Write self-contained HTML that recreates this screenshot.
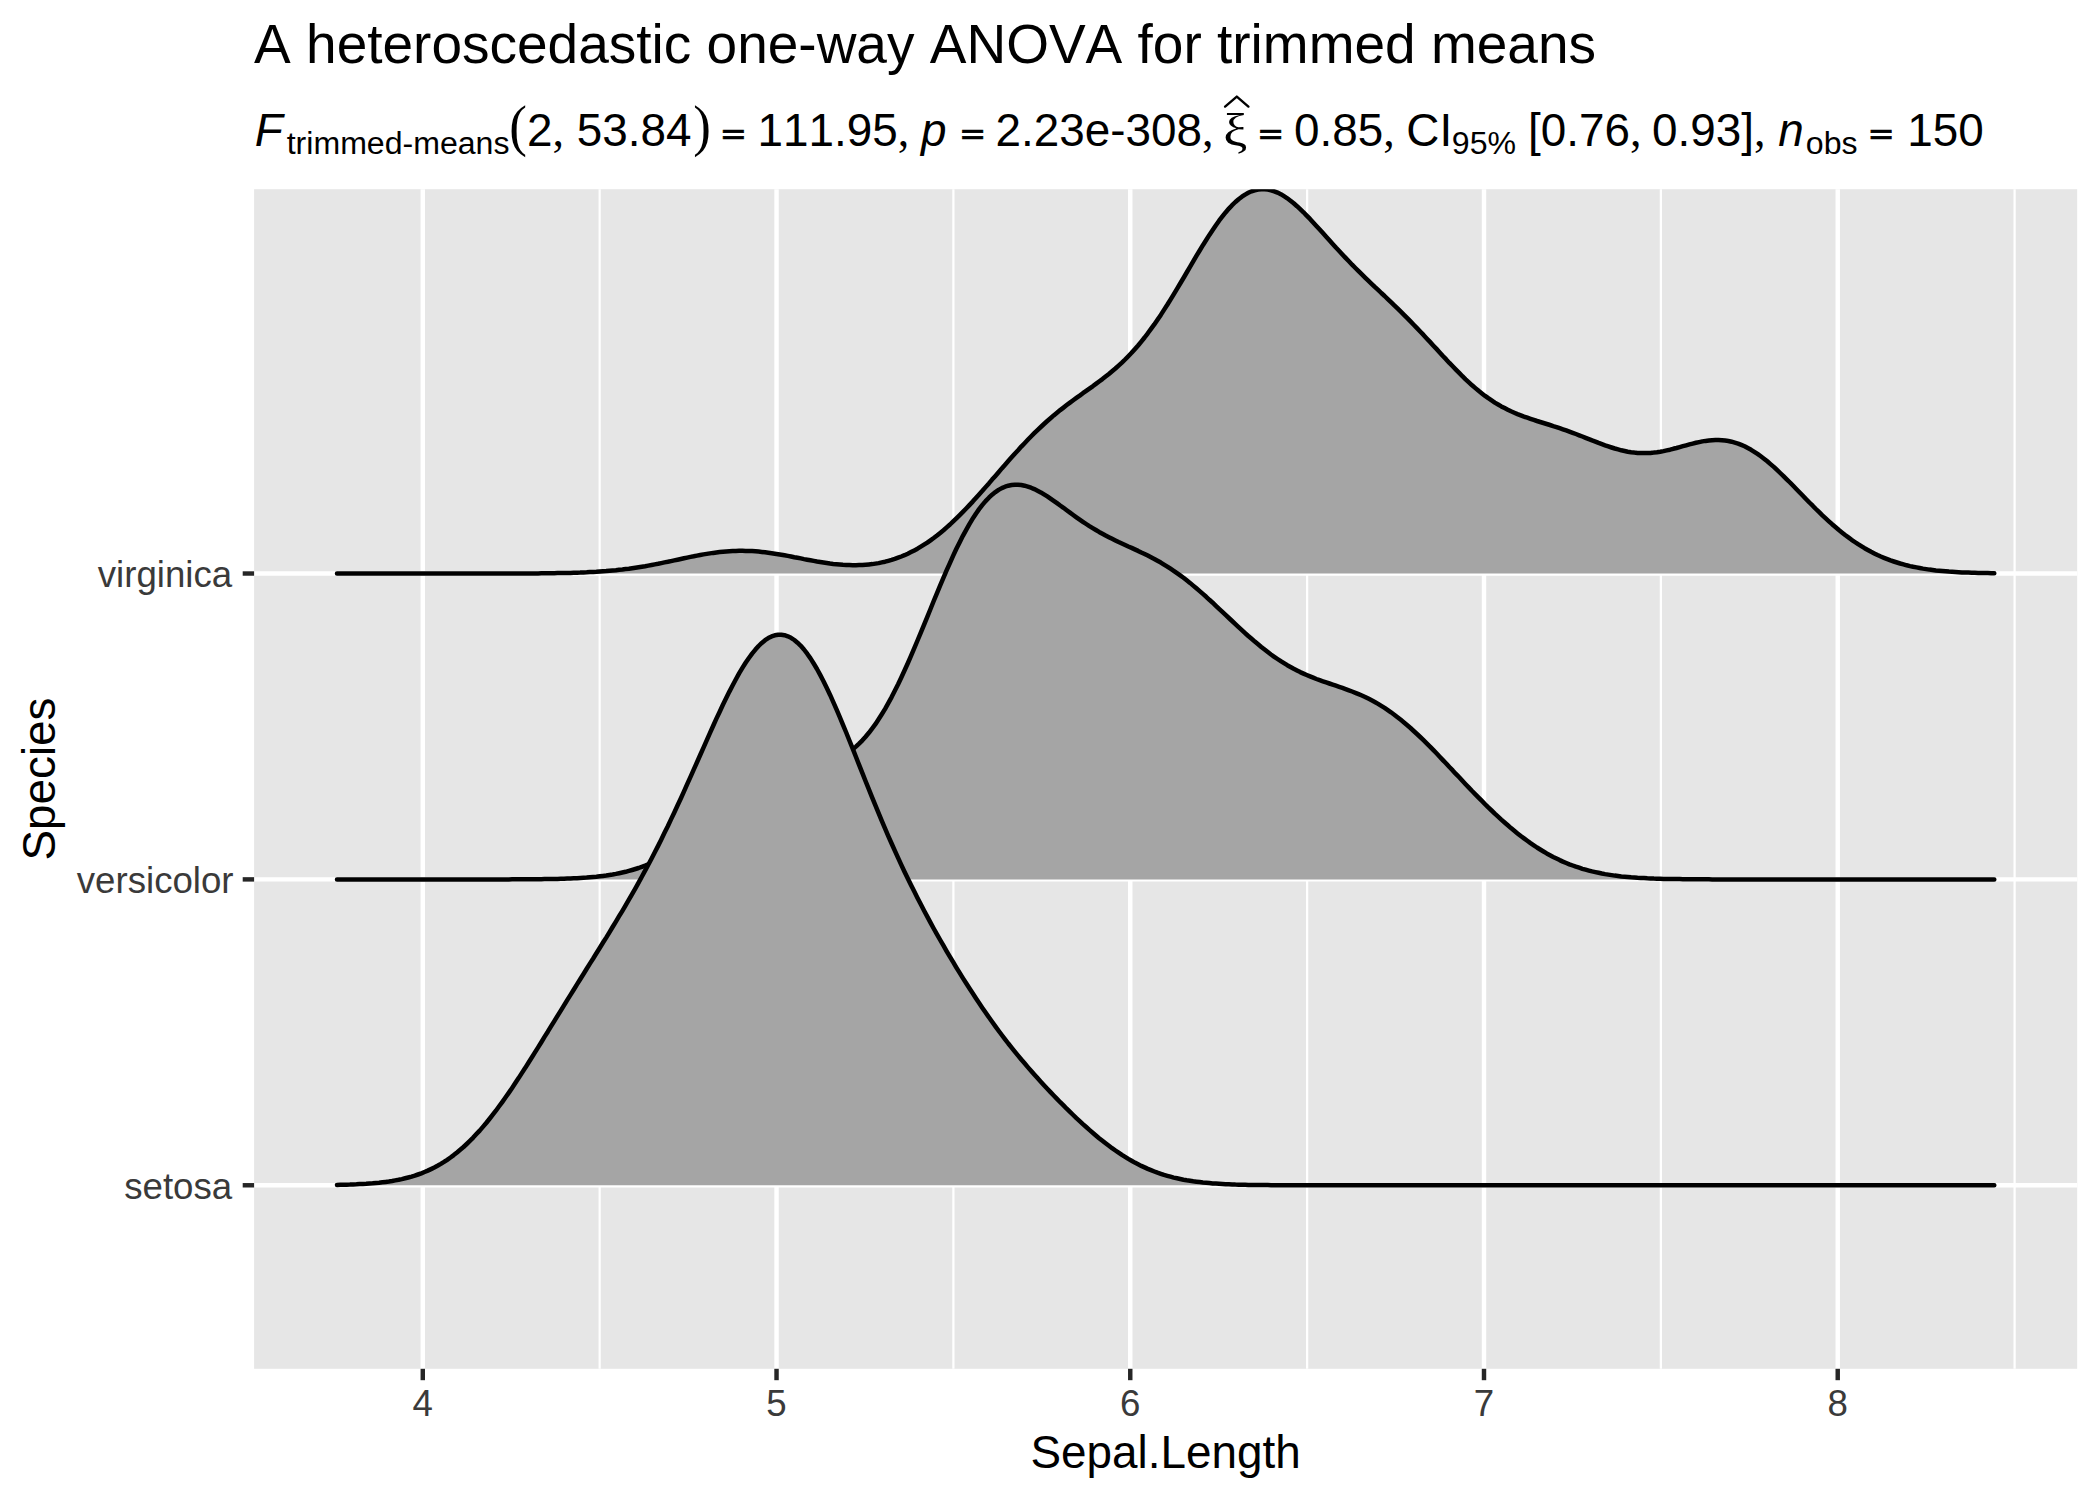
<!DOCTYPE html>
<html><head><meta charset="utf-8"><title>A heteroscedastic one-way ANOVA for trimmed means</title>
<style>
html,body{margin:0;padding:0;background:#fff;}
body{width:2100px;height:1500px;overflow:hidden;}
svg{display:block;}
svg{font-family:"Liberation Sans",sans-serif;font-kerning:none;}
</style></head><body>
<svg width="2100" height="1500" viewBox="0 0 2100 1500">
<rect width="2100" height="1500" fill="#fff"/>
<rect x="254.10" y="189.20" width="1823.07" height="1179.60" fill="#E6E6E6"/>
<line x1="599.66" x2="599.66" y1="189.20" y2="1368.80" stroke="#fff" stroke-width="2.22"/>
<line x1="953.39" x2="953.39" y1="189.20" y2="1368.80" stroke="#fff" stroke-width="2.22"/>
<line x1="1307.13" x2="1307.13" y1="189.20" y2="1368.80" stroke="#fff" stroke-width="2.22"/>
<line x1="1660.86" x2="1660.86" y1="189.20" y2="1368.80" stroke="#fff" stroke-width="2.22"/>
<line x1="2014.60" x2="2014.60" y1="189.20" y2="1368.80" stroke="#fff" stroke-width="2.22"/>
<line x1="422.79" x2="422.79" y1="189.20" y2="1368.80" stroke="#fff" stroke-width="4.45"/>
<line x1="776.53" x2="776.53" y1="189.20" y2="1368.80" stroke="#fff" stroke-width="4.45"/>
<line x1="1130.26" x2="1130.26" y1="189.20" y2="1368.80" stroke="#fff" stroke-width="4.45"/>
<line x1="1484.00" x2="1484.00" y1="189.20" y2="1368.80" stroke="#fff" stroke-width="4.45"/>
<line x1="1837.73" x2="1837.73" y1="189.20" y2="1368.80" stroke="#fff" stroke-width="4.45"/>
<line x1="254.10" x2="2077.17" y1="1185.27" y2="1185.27" stroke="#fff" stroke-width="4.45"/>
<line x1="254.10" x2="2077.17" y1="879.39" y2="879.39" stroke="#fff" stroke-width="4.45"/>
<line x1="254.10" x2="2077.17" y1="573.52" y2="573.52" stroke="#fff" stroke-width="4.45"/>
<clipPath id="pc"><rect x="254.10" y="189.20" width="1823.07" height="1179.60"/></clipPath>
<g clip-path="url(#pc)">
<polygon points="337.0,573.5 340.2,573.5 343.5,573.5 346.7,573.5 349.9,573.5 353.2,573.5 356.4,573.5 359.7,573.5 362.9,573.5 366.2,573.5 369.4,573.5 372.6,573.5 375.9,573.5 379.1,573.5 382.4,573.5 385.6,573.5 388.9,573.5 392.1,573.5 395.3,573.5 398.6,573.5 401.8,573.5 405.1,573.5 408.3,573.5 411.6,573.5 414.8,573.5 418.0,573.5 421.3,573.5 424.5,573.5 427.8,573.5 431.0,573.5 434.3,573.5 437.5,573.5 440.8,573.5 444.0,573.5 447.2,573.5 450.5,573.5 453.7,573.5 457.0,573.5 460.2,573.5 463.5,573.5 466.7,573.5 469.9,573.5 473.2,573.5 476.4,573.5 479.7,573.5 482.9,573.5 486.2,573.5 489.4,573.5 492.6,573.5 495.9,573.5 499.1,573.5 502.4,573.5 505.6,573.5 508.9,573.5 512.1,573.5 515.3,573.5 518.6,573.5 521.8,573.5 525.1,573.4 528.3,573.4 531.6,573.4 534.8,573.4 538.1,573.4 541.3,573.3 544.5,573.3 547.8,573.3 551.0,573.2 554.3,573.2 557.5,573.1 560.8,573.1 564.0,573.0 567.2,573.0 570.5,572.9 573.7,572.8 577.0,572.7 580.2,572.6 583.5,572.4 586.7,572.3 589.9,572.1 593.2,572.0 596.4,571.8 599.7,571.5 602.9,571.3 606.2,571.1 609.4,570.8 612.6,570.5 615.9,570.2 619.1,569.8 622.4,569.5 625.6,569.1 628.9,568.7 632.1,568.2 635.4,567.7 638.6,567.2 641.8,566.7 645.1,566.2 648.3,565.6 651.6,565.0 654.8,564.4 658.1,563.8 661.3,563.1 664.5,562.4 667.8,561.8 671.0,561.1 674.3,560.4 677.5,559.7 680.8,559.0 684.0,558.3 687.2,557.6 690.5,556.9 693.7,556.3 697.0,555.6 700.2,555.0 703.5,554.4 706.7,553.9 709.9,553.4 713.2,552.9 716.4,552.5 719.7,552.1 722.9,551.7 726.2,551.4 729.4,551.2 732.7,551.0 735.9,550.9 739.1,550.8 742.4,550.8 745.6,550.9 748.9,551.0 752.1,551.1 755.4,551.3 758.6,551.6 761.8,551.9 765.1,552.3 768.3,552.7 771.6,553.2 774.8,553.7 778.1,554.2 781.3,554.7 784.5,555.3 787.8,555.9 791.0,556.5 794.3,557.2 797.5,557.8 800.8,558.4 804.0,559.1 807.2,559.7 810.5,560.3 813.7,560.9 817.0,561.5 820.2,562.0 823.5,562.5 826.7,563.0 830.0,563.5 833.2,563.9 836.4,564.2 839.7,564.5 842.9,564.8 846.2,565.0 849.4,565.1 852.7,565.2 855.9,565.2 859.1,565.1 862.4,565.0 865.6,564.7 868.9,564.4 872.1,564.1 875.4,563.6 878.6,563.1 881.8,562.4 885.1,561.7 888.3,560.8 891.6,559.9 894.8,558.9 898.1,557.7 901.3,556.5 904.5,555.2 907.8,553.7 911.0,552.1 914.3,550.4 917.5,548.7 920.8,546.7 924.0,544.7 927.3,542.6 930.5,540.3 933.7,538.0 937.0,535.5 940.2,532.9 943.5,530.2 946.7,527.4 950.0,524.5 953.2,521.4 956.4,518.3 959.7,515.1 962.9,511.9 966.2,508.5 969.4,505.1 972.7,501.6 975.9,498.0 979.1,494.4 982.4,490.8 985.6,487.1 988.9,483.4 992.1,479.6 995.4,475.9 998.6,472.2 1001.8,468.4 1005.1,464.7 1008.3,461.0 1011.6,457.3 1014.8,453.7 1018.1,450.2 1021.3,446.6 1024.6,443.2 1027.8,439.8 1031.0,436.5 1034.3,433.2 1037.5,430.1 1040.8,427.0 1044.0,424.0 1047.3,421.0 1050.5,418.2 1053.7,415.4 1057.0,412.7 1060.2,410.1 1063.5,407.6 1066.7,405.1 1070.0,402.6 1073.2,400.2 1076.4,397.9 1079.7,395.6 1082.9,393.2 1086.2,390.9 1089.4,388.6 1092.7,386.3 1095.9,383.9 1099.1,381.5 1102.4,379.1 1105.6,376.6 1108.9,374.0 1112.1,371.3 1115.4,368.5 1118.6,365.6 1121.9,362.6 1125.1,359.5 1128.3,356.2 1131.6,352.8 1134.8,349.2 1138.1,345.5 1141.3,341.6 1144.6,337.5 1147.8,333.3 1151.0,328.9 1154.3,324.4 1157.5,319.7 1160.8,314.9 1164.0,309.9 1167.3,304.8 1170.5,299.6 1173.7,294.3 1177.0,288.9 1180.2,283.5 1183.5,278.0 1186.7,272.5 1190.0,266.9 1193.2,261.4 1196.4,255.9 1199.7,250.5 1202.9,245.2 1206.2,240.0 1209.4,234.9 1212.7,230.0 1215.9,225.2 1219.1,220.7 1222.4,216.4 1225.6,212.4 1228.9,208.6 1232.1,205.2 1235.4,202.0 1238.6,199.2 1241.9,196.7 1245.1,194.6 1248.3,192.8 1251.6,191.3 1254.8,190.3 1258.1,189.5 1261.3,189.2 1264.6,189.2 1267.8,189.6 1271.0,190.3 1274.3,191.3 1277.5,192.6 1280.8,194.2 1284.0,196.2 1287.3,198.3 1290.5,200.7 1293.7,203.3 1297.0,206.2 1300.2,209.2 1303.5,212.3 1306.7,215.6 1310.0,218.9 1313.2,222.4 1316.4,225.9 1319.7,229.5 1322.9,233.1 1326.2,236.7 1329.4,240.3 1332.7,243.9 1335.9,247.5 1339.2,251.0 1342.4,254.5 1345.6,257.9 1348.9,261.3 1352.1,264.7 1355.4,268.0 1358.6,271.2 1361.9,274.4 1365.1,277.6 1368.3,280.7 1371.6,283.8 1374.8,286.9 1378.1,289.9 1381.3,293.0 1384.6,296.0 1387.8,299.1 1391.0,302.2 1394.3,305.3 1397.5,308.4 1400.8,311.6 1404.0,314.8 1407.3,318.1 1410.5,321.4 1413.7,324.7 1417.0,328.1 1420.2,331.5 1423.5,334.9 1426.7,338.4 1430.0,341.9 1433.2,345.4 1436.5,348.9 1439.7,352.4 1442.9,356.0 1446.2,359.4 1449.4,362.9 1452.7,366.3 1455.9,369.6 1459.2,372.9 1462.4,376.2 1465.6,379.3 1468.9,382.3 1472.1,385.3 1475.4,388.1 1478.6,390.8 1481.9,393.4 1485.1,395.9 1488.3,398.2 1491.6,400.4 1494.8,402.6 1498.1,404.5 1501.3,406.4 1504.6,408.1 1507.8,409.8 1511.0,411.3 1514.3,412.7 1517.5,414.1 1520.8,415.4 1524.0,416.6 1527.3,417.7 1530.5,418.8 1533.8,419.9 1537.0,421.0 1540.2,422.0 1543.5,423.0 1546.7,424.0 1550.0,425.0 1553.2,426.1 1556.5,427.1 1559.7,428.2 1562.9,429.3 1566.2,430.4 1569.4,431.6 1572.7,432.8 1575.9,434.0 1579.2,435.3 1582.4,436.5 1585.6,437.8 1588.9,439.1 1592.1,440.4 1595.4,441.6 1598.6,442.9 1601.9,444.1 1605.1,445.3 1608.3,446.4 1611.6,447.5 1614.8,448.5 1618.1,449.4 1621.3,450.3 1624.6,451.0 1627.8,451.7 1631.1,452.2 1634.3,452.6 1637.5,452.9 1640.8,453.1 1644.0,453.1 1647.3,453.1 1650.5,452.9 1653.8,452.6 1657.0,452.2 1660.2,451.7 1663.5,451.1 1666.7,450.4 1670.0,449.7 1673.2,448.8 1676.5,448.0 1679.7,447.1 1682.9,446.2 1686.2,445.3 1689.4,444.4 1692.7,443.6 1695.9,442.8 1699.2,442.1 1702.4,441.4 1705.6,440.9 1708.9,440.5 1712.1,440.2 1715.4,440.0 1718.6,440.0 1721.9,440.2 1725.1,440.5 1728.4,441.0 1731.6,441.7 1734.8,442.6 1738.1,443.6 1741.3,444.9 1744.6,446.3 1747.8,448.0 1751.1,449.8 1754.3,451.8 1757.5,453.9 1760.8,456.3 1764.0,458.7 1767.3,461.3 1770.5,464.1 1773.8,466.9 1777.0,469.9 1780.2,473.0 1783.5,476.1 1786.7,479.3 1790.0,482.5 1793.2,485.8 1796.5,489.2 1799.7,492.5 1802.9,495.8 1806.2,499.2 1809.4,502.5 1812.7,505.7 1815.9,509.0 1819.2,512.2 1822.4,515.3 1825.7,518.3 1828.9,521.3 1832.1,524.2 1835.4,527.0 1838.6,529.8 1841.9,532.4 1845.1,535.0 1848.4,537.4 1851.6,539.8 1854.8,542.0 1858.1,544.2 1861.3,546.2 1864.6,548.2 1867.8,550.0 1871.1,551.8 1874.3,553.4 1877.5,555.0 1880.8,556.5 1884.0,557.8 1887.3,559.1 1890.5,560.4 1893.8,561.5 1897.0,562.5 1900.2,563.5 1903.5,564.4 1906.7,565.3 1910.0,566.1 1913.2,566.8 1916.5,567.4 1919.7,568.0 1923.0,568.6 1926.2,569.1 1929.4,569.6 1932.7,570.0 1935.9,570.4 1939.2,570.7 1942.4,571.0 1945.7,571.3 1948.9,571.6 1952.1,571.8 1955.4,572.0 1958.6,572.2 1961.9,572.4 1965.1,572.5 1968.4,572.6 1971.6,572.7 1974.8,572.8 1978.1,572.9 1981.3,573.0 1984.6,573.1 1987.8,573.1 1991.1,573.2 1994.3,573.2 1994.3,573.5 337.0,573.5" fill="#A5A5A5"/>
<polyline points="337.0,573.5 340.2,573.5 343.5,573.5 346.7,573.5 349.9,573.5 353.2,573.5 356.4,573.5 359.7,573.5 362.9,573.5 366.2,573.5 369.4,573.5 372.6,573.5 375.9,573.5 379.1,573.5 382.4,573.5 385.6,573.5 388.9,573.5 392.1,573.5 395.3,573.5 398.6,573.5 401.8,573.5 405.1,573.5 408.3,573.5 411.6,573.5 414.8,573.5 418.0,573.5 421.3,573.5 424.5,573.5 427.8,573.5 431.0,573.5 434.3,573.5 437.5,573.5 440.8,573.5 444.0,573.5 447.2,573.5 450.5,573.5 453.7,573.5 457.0,573.5 460.2,573.5 463.5,573.5 466.7,573.5 469.9,573.5 473.2,573.5 476.4,573.5 479.7,573.5 482.9,573.5 486.2,573.5 489.4,573.5 492.6,573.5 495.9,573.5 499.1,573.5 502.4,573.5 505.6,573.5 508.9,573.5 512.1,573.5 515.3,573.5 518.6,573.5 521.8,573.5 525.1,573.4 528.3,573.4 531.6,573.4 534.8,573.4 538.1,573.4 541.3,573.3 544.5,573.3 547.8,573.3 551.0,573.2 554.3,573.2 557.5,573.1 560.8,573.1 564.0,573.0 567.2,573.0 570.5,572.9 573.7,572.8 577.0,572.7 580.2,572.6 583.5,572.4 586.7,572.3 589.9,572.1 593.2,572.0 596.4,571.8 599.7,571.5 602.9,571.3 606.2,571.1 609.4,570.8 612.6,570.5 615.9,570.2 619.1,569.8 622.4,569.5 625.6,569.1 628.9,568.7 632.1,568.2 635.4,567.7 638.6,567.2 641.8,566.7 645.1,566.2 648.3,565.6 651.6,565.0 654.8,564.4 658.1,563.8 661.3,563.1 664.5,562.4 667.8,561.8 671.0,561.1 674.3,560.4 677.5,559.7 680.8,559.0 684.0,558.3 687.2,557.6 690.5,556.9 693.7,556.3 697.0,555.6 700.2,555.0 703.5,554.4 706.7,553.9 709.9,553.4 713.2,552.9 716.4,552.5 719.7,552.1 722.9,551.7 726.2,551.4 729.4,551.2 732.7,551.0 735.9,550.9 739.1,550.8 742.4,550.8 745.6,550.9 748.9,551.0 752.1,551.1 755.4,551.3 758.6,551.6 761.8,551.9 765.1,552.3 768.3,552.7 771.6,553.2 774.8,553.7 778.1,554.2 781.3,554.7 784.5,555.3 787.8,555.9 791.0,556.5 794.3,557.2 797.5,557.8 800.8,558.4 804.0,559.1 807.2,559.7 810.5,560.3 813.7,560.9 817.0,561.5 820.2,562.0 823.5,562.5 826.7,563.0 830.0,563.5 833.2,563.9 836.4,564.2 839.7,564.5 842.9,564.8 846.2,565.0 849.4,565.1 852.7,565.2 855.9,565.2 859.1,565.1 862.4,565.0 865.6,564.7 868.9,564.4 872.1,564.1 875.4,563.6 878.6,563.1 881.8,562.4 885.1,561.7 888.3,560.8 891.6,559.9 894.8,558.9 898.1,557.7 901.3,556.5 904.5,555.2 907.8,553.7 911.0,552.1 914.3,550.4 917.5,548.7 920.8,546.7 924.0,544.7 927.3,542.6 930.5,540.3 933.7,538.0 937.0,535.5 940.2,532.9 943.5,530.2 946.7,527.4 950.0,524.5 953.2,521.4 956.4,518.3 959.7,515.1 962.9,511.9 966.2,508.5 969.4,505.1 972.7,501.6 975.9,498.0 979.1,494.4 982.4,490.8 985.6,487.1 988.9,483.4 992.1,479.6 995.4,475.9 998.6,472.2 1001.8,468.4 1005.1,464.7 1008.3,461.0 1011.6,457.3 1014.8,453.7 1018.1,450.2 1021.3,446.6 1024.6,443.2 1027.8,439.8 1031.0,436.5 1034.3,433.2 1037.5,430.1 1040.8,427.0 1044.0,424.0 1047.3,421.0 1050.5,418.2 1053.7,415.4 1057.0,412.7 1060.2,410.1 1063.5,407.6 1066.7,405.1 1070.0,402.6 1073.2,400.2 1076.4,397.9 1079.7,395.6 1082.9,393.2 1086.2,390.9 1089.4,388.6 1092.7,386.3 1095.9,383.9 1099.1,381.5 1102.4,379.1 1105.6,376.6 1108.9,374.0 1112.1,371.3 1115.4,368.5 1118.6,365.6 1121.9,362.6 1125.1,359.5 1128.3,356.2 1131.6,352.8 1134.8,349.2 1138.1,345.5 1141.3,341.6 1144.6,337.5 1147.8,333.3 1151.0,328.9 1154.3,324.4 1157.5,319.7 1160.8,314.9 1164.0,309.9 1167.3,304.8 1170.5,299.6 1173.7,294.3 1177.0,288.9 1180.2,283.5 1183.5,278.0 1186.7,272.5 1190.0,266.9 1193.2,261.4 1196.4,255.9 1199.7,250.5 1202.9,245.2 1206.2,240.0 1209.4,234.9 1212.7,230.0 1215.9,225.2 1219.1,220.7 1222.4,216.4 1225.6,212.4 1228.9,208.6 1232.1,205.2 1235.4,202.0 1238.6,199.2 1241.9,196.7 1245.1,194.6 1248.3,192.8 1251.6,191.3 1254.8,190.3 1258.1,189.5 1261.3,189.2 1264.6,189.2 1267.8,189.6 1271.0,190.3 1274.3,191.3 1277.5,192.6 1280.8,194.2 1284.0,196.2 1287.3,198.3 1290.5,200.7 1293.7,203.3 1297.0,206.2 1300.2,209.2 1303.5,212.3 1306.7,215.6 1310.0,218.9 1313.2,222.4 1316.4,225.9 1319.7,229.5 1322.9,233.1 1326.2,236.7 1329.4,240.3 1332.7,243.9 1335.9,247.5 1339.2,251.0 1342.4,254.5 1345.6,257.9 1348.9,261.3 1352.1,264.7 1355.4,268.0 1358.6,271.2 1361.9,274.4 1365.1,277.6 1368.3,280.7 1371.6,283.8 1374.8,286.9 1378.1,289.9 1381.3,293.0 1384.6,296.0 1387.8,299.1 1391.0,302.2 1394.3,305.3 1397.5,308.4 1400.8,311.6 1404.0,314.8 1407.3,318.1 1410.5,321.4 1413.7,324.7 1417.0,328.1 1420.2,331.5 1423.5,334.9 1426.7,338.4 1430.0,341.9 1433.2,345.4 1436.5,348.9 1439.7,352.4 1442.9,356.0 1446.2,359.4 1449.4,362.9 1452.7,366.3 1455.9,369.6 1459.2,372.9 1462.4,376.2 1465.6,379.3 1468.9,382.3 1472.1,385.3 1475.4,388.1 1478.6,390.8 1481.9,393.4 1485.1,395.9 1488.3,398.2 1491.6,400.4 1494.8,402.6 1498.1,404.5 1501.3,406.4 1504.6,408.1 1507.8,409.8 1511.0,411.3 1514.3,412.7 1517.5,414.1 1520.8,415.4 1524.0,416.6 1527.3,417.7 1530.5,418.8 1533.8,419.9 1537.0,421.0 1540.2,422.0 1543.5,423.0 1546.7,424.0 1550.0,425.0 1553.2,426.1 1556.5,427.1 1559.7,428.2 1562.9,429.3 1566.2,430.4 1569.4,431.6 1572.7,432.8 1575.9,434.0 1579.2,435.3 1582.4,436.5 1585.6,437.8 1588.9,439.1 1592.1,440.4 1595.4,441.6 1598.6,442.9 1601.9,444.1 1605.1,445.3 1608.3,446.4 1611.6,447.5 1614.8,448.5 1618.1,449.4 1621.3,450.3 1624.6,451.0 1627.8,451.7 1631.1,452.2 1634.3,452.6 1637.5,452.9 1640.8,453.1 1644.0,453.1 1647.3,453.1 1650.5,452.9 1653.8,452.6 1657.0,452.2 1660.2,451.7 1663.5,451.1 1666.7,450.4 1670.0,449.7 1673.2,448.8 1676.5,448.0 1679.7,447.1 1682.9,446.2 1686.2,445.3 1689.4,444.4 1692.7,443.6 1695.9,442.8 1699.2,442.1 1702.4,441.4 1705.6,440.9 1708.9,440.5 1712.1,440.2 1715.4,440.0 1718.6,440.0 1721.9,440.2 1725.1,440.5 1728.4,441.0 1731.6,441.7 1734.8,442.6 1738.1,443.6 1741.3,444.9 1744.6,446.3 1747.8,448.0 1751.1,449.8 1754.3,451.8 1757.5,453.9 1760.8,456.3 1764.0,458.7 1767.3,461.3 1770.5,464.1 1773.8,466.9 1777.0,469.9 1780.2,473.0 1783.5,476.1 1786.7,479.3 1790.0,482.5 1793.2,485.8 1796.5,489.2 1799.7,492.5 1802.9,495.8 1806.2,499.2 1809.4,502.5 1812.7,505.7 1815.9,509.0 1819.2,512.2 1822.4,515.3 1825.7,518.3 1828.9,521.3 1832.1,524.2 1835.4,527.0 1838.6,529.8 1841.9,532.4 1845.1,535.0 1848.4,537.4 1851.6,539.8 1854.8,542.0 1858.1,544.2 1861.3,546.2 1864.6,548.2 1867.8,550.0 1871.1,551.8 1874.3,553.4 1877.5,555.0 1880.8,556.5 1884.0,557.8 1887.3,559.1 1890.5,560.4 1893.8,561.5 1897.0,562.5 1900.2,563.5 1903.5,564.4 1906.7,565.3 1910.0,566.1 1913.2,566.8 1916.5,567.4 1919.7,568.0 1923.0,568.6 1926.2,569.1 1929.4,569.6 1932.7,570.0 1935.9,570.4 1939.2,570.7 1942.4,571.0 1945.7,571.3 1948.9,571.6 1952.1,571.8 1955.4,572.0 1958.6,572.2 1961.9,572.4 1965.1,572.5 1968.4,572.6 1971.6,572.7 1974.8,572.8 1978.1,572.9 1981.3,573.0 1984.6,573.1 1987.8,573.1 1991.1,573.2 1994.3,573.2" fill="none" stroke="#000" stroke-width="4.5" stroke-linejoin="round" stroke-linecap="round"/>
<polygon points="337.0,879.4 340.2,879.4 343.5,879.4 346.7,879.4 349.9,879.4 353.2,879.4 356.4,879.4 359.7,879.4 362.9,879.4 366.2,879.4 369.4,879.4 372.6,879.4 375.9,879.4 379.1,879.4 382.4,879.4 385.6,879.4 388.9,879.4 392.1,879.4 395.3,879.4 398.6,879.4 401.8,879.4 405.1,879.4 408.3,879.4 411.6,879.4 414.8,879.4 418.0,879.4 421.3,879.4 424.5,879.4 427.8,879.4 431.0,879.4 434.3,879.4 437.5,879.4 440.8,879.4 444.0,879.4 447.2,879.4 450.5,879.4 453.7,879.4 457.0,879.4 460.2,879.4 463.5,879.4 466.7,879.4 469.9,879.4 473.2,879.4 476.4,879.4 479.7,879.4 482.9,879.4 486.2,879.4 489.4,879.4 492.6,879.4 495.9,879.4 499.1,879.4 502.4,879.4 505.6,879.4 508.9,879.4 512.1,879.3 515.3,879.3 518.6,879.3 521.8,879.3 525.1,879.3 528.3,879.3 531.6,879.3 534.8,879.2 538.1,879.2 541.3,879.2 544.5,879.1 547.8,879.1 551.0,879.0 554.3,879.0 557.5,878.9 560.8,878.8 564.0,878.7 567.2,878.6 570.5,878.5 573.7,878.3 577.0,878.2 580.2,878.0 583.5,877.8 586.7,877.6 589.9,877.3 593.2,877.0 596.4,876.7 599.7,876.3 602.9,875.9 606.2,875.5 609.4,875.0 612.6,874.5 615.9,873.9 619.1,873.2 622.4,872.5 625.6,871.8 628.9,870.9 632.1,870.0 635.4,869.0 638.6,868.0 641.8,866.8 645.1,865.6 648.3,864.3 651.6,862.9 654.8,861.5 658.1,859.9 661.3,858.3 664.5,856.5 667.8,854.7 671.0,852.8 674.3,850.8 677.5,848.7 680.8,846.5 684.0,844.2 687.2,841.9 690.5,839.5 693.7,837.0 697.0,834.5 700.2,831.9 703.5,829.3 706.7,826.7 709.9,824.0 713.2,821.3 716.4,818.6 719.7,815.9 722.9,813.2 726.2,810.5 729.4,807.9 732.7,805.3 735.9,802.7 739.1,800.2 742.4,797.8 745.6,795.4 748.9,793.1 752.1,791.0 755.4,788.9 758.6,786.9 761.8,785.0 765.1,783.2 768.3,781.5 771.6,780.0 774.8,778.5 778.1,777.2 781.3,775.9 784.5,774.8 787.8,773.7 791.0,772.7 794.3,771.8 797.5,770.9 800.8,770.1 804.0,769.3 807.2,768.5 810.5,767.8 813.7,767.0 817.0,766.2 820.2,765.3 823.5,764.3 826.7,763.3 830.0,762.1 833.2,760.9 836.4,759.4 839.7,757.8 842.9,756.0 846.2,754.0 849.4,751.8 852.7,749.3 855.9,746.6 859.1,743.6 862.4,740.3 865.6,736.7 868.9,732.8 872.1,728.6 875.4,724.2 878.6,719.3 881.8,714.2 885.1,708.8 888.3,703.1 891.6,697.1 894.8,690.8 898.1,684.3 901.3,677.5 904.5,670.5 907.8,663.2 911.0,655.8 914.3,648.2 917.5,640.5 920.8,632.7 924.0,624.8 927.3,616.9 930.5,609.0 933.7,601.0 937.0,593.2 940.2,585.4 943.5,577.7 946.7,570.2 950.0,562.8 953.2,555.7 956.4,548.8 959.7,542.2 962.9,535.8 966.2,529.8 969.4,524.1 972.7,518.7 975.9,513.7 979.1,509.1 982.4,504.9 985.6,501.1 988.9,497.7 992.1,494.7 995.4,492.1 998.6,489.9 1001.8,488.1 1005.1,486.7 1008.3,485.7 1011.6,485.0 1014.8,484.7 1018.1,484.7 1021.3,485.0 1024.6,485.7 1027.8,486.6 1031.0,487.7 1034.3,489.1 1037.5,490.7 1040.8,492.4 1044.0,494.4 1047.3,496.4 1050.5,498.6 1053.7,500.8 1057.0,503.1 1060.2,505.5 1063.5,507.8 1066.7,510.2 1070.0,512.6 1073.2,515.0 1076.4,517.3 1079.7,519.6 1082.9,521.8 1086.2,524.0 1089.4,526.1 1092.7,528.1 1095.9,530.0 1099.1,531.9 1102.4,533.7 1105.6,535.5 1108.9,537.2 1112.1,538.8 1115.4,540.4 1118.6,542.0 1121.9,543.5 1125.1,545.0 1128.3,546.5 1131.6,547.9 1134.8,549.4 1138.1,550.9 1141.3,552.5 1144.6,554.0 1147.8,555.6 1151.0,557.3 1154.3,559.0 1157.5,560.8 1160.8,562.6 1164.0,564.6 1167.3,566.6 1170.5,568.7 1173.7,570.8 1177.0,573.1 1180.2,575.4 1183.5,577.8 1186.7,580.3 1190.0,582.9 1193.2,585.6 1196.4,588.3 1199.7,591.1 1202.9,593.9 1206.2,596.8 1209.4,599.8 1212.7,602.7 1215.9,605.8 1219.1,608.8 1222.4,611.9 1225.6,614.9 1228.9,618.0 1232.1,621.0 1235.4,624.1 1238.6,627.1 1241.9,630.1 1245.1,633.1 1248.3,636.0 1251.6,638.8 1254.8,641.6 1258.1,644.3 1261.3,647.0 1264.6,649.6 1267.8,652.1 1271.0,654.5 1274.3,656.8 1277.5,659.0 1280.8,661.2 1284.0,663.2 1287.3,665.2 1290.5,667.0 1293.7,668.8 1297.0,670.5 1300.2,672.1 1303.5,673.6 1306.7,675.0 1310.0,676.4 1313.2,677.7 1316.4,679.0 1319.7,680.2 1322.9,681.3 1326.2,682.4 1329.4,683.5 1332.7,684.6 1335.9,685.7 1339.2,686.8 1342.4,687.9 1345.6,689.1 1348.9,690.3 1352.1,691.5 1355.4,692.8 1358.6,694.1 1361.9,695.5 1365.1,697.0 1368.3,698.6 1371.6,700.3 1374.8,702.0 1378.1,703.9 1381.3,705.9 1384.6,707.9 1387.8,710.1 1391.0,712.3 1394.3,714.7 1397.5,717.2 1400.8,719.8 1404.0,722.4 1407.3,725.2 1410.5,728.0 1413.7,731.0 1417.0,734.0 1420.2,737.0 1423.5,740.2 1426.7,743.4 1430.0,746.6 1433.2,749.9 1436.5,753.3 1439.7,756.7 1442.9,760.1 1446.2,763.5 1449.4,767.0 1452.7,770.4 1455.9,773.9 1459.2,777.3 1462.4,780.8 1465.6,784.2 1468.9,787.6 1472.1,791.0 1475.4,794.3 1478.6,797.6 1481.9,800.9 1485.1,804.2 1488.3,807.4 1491.6,810.5 1494.8,813.6 1498.1,816.6 1501.3,819.6 1504.6,822.5 1507.8,825.3 1511.0,828.1 1514.3,830.8 1517.5,833.4 1520.8,836.0 1524.0,838.4 1527.3,840.8 1530.5,843.1 1533.8,845.3 1537.0,847.5 1540.2,849.5 1543.5,851.5 1546.7,853.4 1550.0,855.2 1553.2,856.9 1556.5,858.5 1559.7,860.1 1562.9,861.6 1566.2,863.0 1569.4,864.3 1572.7,865.5 1575.9,866.7 1579.2,867.7 1582.4,868.8 1585.6,869.7 1588.9,870.6 1592.1,871.4 1595.4,872.1 1598.6,872.8 1601.9,873.5 1605.1,874.1 1608.3,874.6 1611.6,875.1 1614.8,875.6 1618.1,876.0 1621.3,876.4 1624.6,876.7 1627.8,877.0 1631.1,877.3 1634.3,877.5 1637.5,877.8 1640.8,878.0 1644.0,878.1 1647.3,878.3 1650.5,878.4 1653.8,878.6 1657.0,878.7 1660.2,878.8 1663.5,878.9 1666.7,878.9 1670.0,879.0 1673.2,879.1 1676.5,879.1 1679.7,879.1 1682.9,879.2 1686.2,879.2 1689.4,879.2 1692.7,879.3 1695.9,879.3 1699.2,879.3 1702.4,879.3 1705.6,879.3 1708.9,879.3 1712.1,879.4 1715.4,879.4 1718.6,879.4 1721.9,879.4 1725.1,879.4 1728.4,879.4 1731.6,879.4 1734.8,879.4 1738.1,879.4 1741.3,879.4 1744.6,879.4 1747.8,879.4 1751.1,879.4 1754.3,879.4 1757.5,879.4 1760.8,879.4 1764.0,879.4 1767.3,879.4 1770.5,879.4 1773.8,879.4 1777.0,879.4 1780.2,879.4 1783.5,879.4 1786.7,879.4 1790.0,879.4 1793.2,879.4 1796.5,879.4 1799.7,879.4 1802.9,879.4 1806.2,879.4 1809.4,879.4 1812.7,879.4 1815.9,879.4 1819.2,879.4 1822.4,879.4 1825.7,879.4 1828.9,879.4 1832.1,879.4 1835.4,879.4 1838.6,879.4 1841.9,879.4 1845.1,879.4 1848.4,879.4 1851.6,879.4 1854.8,879.4 1858.1,879.4 1861.3,879.4 1864.6,879.4 1867.8,879.4 1871.1,879.4 1874.3,879.4 1877.5,879.4 1880.8,879.4 1884.0,879.4 1887.3,879.4 1890.5,879.4 1893.8,879.4 1897.0,879.4 1900.2,879.4 1903.5,879.4 1906.7,879.4 1910.0,879.4 1913.2,879.4 1916.5,879.4 1919.7,879.4 1923.0,879.4 1926.2,879.4 1929.4,879.4 1932.7,879.4 1935.9,879.4 1939.2,879.4 1942.4,879.4 1945.7,879.4 1948.9,879.4 1952.1,879.4 1955.4,879.4 1958.6,879.4 1961.9,879.4 1965.1,879.4 1968.4,879.4 1971.6,879.4 1974.8,879.4 1978.1,879.4 1981.3,879.4 1984.6,879.4 1987.8,879.4 1991.1,879.4 1994.3,879.4 1994.3,879.4 337.0,879.4" fill="#A5A5A5"/>
<polyline points="337.0,879.4 340.2,879.4 343.5,879.4 346.7,879.4 349.9,879.4 353.2,879.4 356.4,879.4 359.7,879.4 362.9,879.4 366.2,879.4 369.4,879.4 372.6,879.4 375.9,879.4 379.1,879.4 382.4,879.4 385.6,879.4 388.9,879.4 392.1,879.4 395.3,879.4 398.6,879.4 401.8,879.4 405.1,879.4 408.3,879.4 411.6,879.4 414.8,879.4 418.0,879.4 421.3,879.4 424.5,879.4 427.8,879.4 431.0,879.4 434.3,879.4 437.5,879.4 440.8,879.4 444.0,879.4 447.2,879.4 450.5,879.4 453.7,879.4 457.0,879.4 460.2,879.4 463.5,879.4 466.7,879.4 469.9,879.4 473.2,879.4 476.4,879.4 479.7,879.4 482.9,879.4 486.2,879.4 489.4,879.4 492.6,879.4 495.9,879.4 499.1,879.4 502.4,879.4 505.6,879.4 508.9,879.4 512.1,879.3 515.3,879.3 518.6,879.3 521.8,879.3 525.1,879.3 528.3,879.3 531.6,879.3 534.8,879.2 538.1,879.2 541.3,879.2 544.5,879.1 547.8,879.1 551.0,879.0 554.3,879.0 557.5,878.9 560.8,878.8 564.0,878.7 567.2,878.6 570.5,878.5 573.7,878.3 577.0,878.2 580.2,878.0 583.5,877.8 586.7,877.6 589.9,877.3 593.2,877.0 596.4,876.7 599.7,876.3 602.9,875.9 606.2,875.5 609.4,875.0 612.6,874.5 615.9,873.9 619.1,873.2 622.4,872.5 625.6,871.8 628.9,870.9 632.1,870.0 635.4,869.0 638.6,868.0 641.8,866.8 645.1,865.6 648.3,864.3 651.6,862.9 654.8,861.5 658.1,859.9 661.3,858.3 664.5,856.5 667.8,854.7 671.0,852.8 674.3,850.8 677.5,848.7 680.8,846.5 684.0,844.2 687.2,841.9 690.5,839.5 693.7,837.0 697.0,834.5 700.2,831.9 703.5,829.3 706.7,826.7 709.9,824.0 713.2,821.3 716.4,818.6 719.7,815.9 722.9,813.2 726.2,810.5 729.4,807.9 732.7,805.3 735.9,802.7 739.1,800.2 742.4,797.8 745.6,795.4 748.9,793.1 752.1,791.0 755.4,788.9 758.6,786.9 761.8,785.0 765.1,783.2 768.3,781.5 771.6,780.0 774.8,778.5 778.1,777.2 781.3,775.9 784.5,774.8 787.8,773.7 791.0,772.7 794.3,771.8 797.5,770.9 800.8,770.1 804.0,769.3 807.2,768.5 810.5,767.8 813.7,767.0 817.0,766.2 820.2,765.3 823.5,764.3 826.7,763.3 830.0,762.1 833.2,760.9 836.4,759.4 839.7,757.8 842.9,756.0 846.2,754.0 849.4,751.8 852.7,749.3 855.9,746.6 859.1,743.6 862.4,740.3 865.6,736.7 868.9,732.8 872.1,728.6 875.4,724.2 878.6,719.3 881.8,714.2 885.1,708.8 888.3,703.1 891.6,697.1 894.8,690.8 898.1,684.3 901.3,677.5 904.5,670.5 907.8,663.2 911.0,655.8 914.3,648.2 917.5,640.5 920.8,632.7 924.0,624.8 927.3,616.9 930.5,609.0 933.7,601.0 937.0,593.2 940.2,585.4 943.5,577.7 946.7,570.2 950.0,562.8 953.2,555.7 956.4,548.8 959.7,542.2 962.9,535.8 966.2,529.8 969.4,524.1 972.7,518.7 975.9,513.7 979.1,509.1 982.4,504.9 985.6,501.1 988.9,497.7 992.1,494.7 995.4,492.1 998.6,489.9 1001.8,488.1 1005.1,486.7 1008.3,485.7 1011.6,485.0 1014.8,484.7 1018.1,484.7 1021.3,485.0 1024.6,485.7 1027.8,486.6 1031.0,487.7 1034.3,489.1 1037.5,490.7 1040.8,492.4 1044.0,494.4 1047.3,496.4 1050.5,498.6 1053.7,500.8 1057.0,503.1 1060.2,505.5 1063.5,507.8 1066.7,510.2 1070.0,512.6 1073.2,515.0 1076.4,517.3 1079.7,519.6 1082.9,521.8 1086.2,524.0 1089.4,526.1 1092.7,528.1 1095.9,530.0 1099.1,531.9 1102.4,533.7 1105.6,535.5 1108.9,537.2 1112.1,538.8 1115.4,540.4 1118.6,542.0 1121.9,543.5 1125.1,545.0 1128.3,546.5 1131.6,547.9 1134.8,549.4 1138.1,550.9 1141.3,552.5 1144.6,554.0 1147.8,555.6 1151.0,557.3 1154.3,559.0 1157.5,560.8 1160.8,562.6 1164.0,564.6 1167.3,566.6 1170.5,568.7 1173.7,570.8 1177.0,573.1 1180.2,575.4 1183.5,577.8 1186.7,580.3 1190.0,582.9 1193.2,585.6 1196.4,588.3 1199.7,591.1 1202.9,593.9 1206.2,596.8 1209.4,599.8 1212.7,602.7 1215.9,605.8 1219.1,608.8 1222.4,611.9 1225.6,614.9 1228.9,618.0 1232.1,621.0 1235.4,624.1 1238.6,627.1 1241.9,630.1 1245.1,633.1 1248.3,636.0 1251.6,638.8 1254.8,641.6 1258.1,644.3 1261.3,647.0 1264.6,649.6 1267.8,652.1 1271.0,654.5 1274.3,656.8 1277.5,659.0 1280.8,661.2 1284.0,663.2 1287.3,665.2 1290.5,667.0 1293.7,668.8 1297.0,670.5 1300.2,672.1 1303.5,673.6 1306.7,675.0 1310.0,676.4 1313.2,677.7 1316.4,679.0 1319.7,680.2 1322.9,681.3 1326.2,682.4 1329.4,683.5 1332.7,684.6 1335.9,685.7 1339.2,686.8 1342.4,687.9 1345.6,689.1 1348.9,690.3 1352.1,691.5 1355.4,692.8 1358.6,694.1 1361.9,695.5 1365.1,697.0 1368.3,698.6 1371.6,700.3 1374.8,702.0 1378.1,703.9 1381.3,705.9 1384.6,707.9 1387.8,710.1 1391.0,712.3 1394.3,714.7 1397.5,717.2 1400.8,719.8 1404.0,722.4 1407.3,725.2 1410.5,728.0 1413.7,731.0 1417.0,734.0 1420.2,737.0 1423.5,740.2 1426.7,743.4 1430.0,746.6 1433.2,749.9 1436.5,753.3 1439.7,756.7 1442.9,760.1 1446.2,763.5 1449.4,767.0 1452.7,770.4 1455.9,773.9 1459.2,777.3 1462.4,780.8 1465.6,784.2 1468.9,787.6 1472.1,791.0 1475.4,794.3 1478.6,797.6 1481.9,800.9 1485.1,804.2 1488.3,807.4 1491.6,810.5 1494.8,813.6 1498.1,816.6 1501.3,819.6 1504.6,822.5 1507.8,825.3 1511.0,828.1 1514.3,830.8 1517.5,833.4 1520.8,836.0 1524.0,838.4 1527.3,840.8 1530.5,843.1 1533.8,845.3 1537.0,847.5 1540.2,849.5 1543.5,851.5 1546.7,853.4 1550.0,855.2 1553.2,856.9 1556.5,858.5 1559.7,860.1 1562.9,861.6 1566.2,863.0 1569.4,864.3 1572.7,865.5 1575.9,866.7 1579.2,867.7 1582.4,868.8 1585.6,869.7 1588.9,870.6 1592.1,871.4 1595.4,872.1 1598.6,872.8 1601.9,873.5 1605.1,874.1 1608.3,874.6 1611.6,875.1 1614.8,875.6 1618.1,876.0 1621.3,876.4 1624.6,876.7 1627.8,877.0 1631.1,877.3 1634.3,877.5 1637.5,877.8 1640.8,878.0 1644.0,878.1 1647.3,878.3 1650.5,878.4 1653.8,878.6 1657.0,878.7 1660.2,878.8 1663.5,878.9 1666.7,878.9 1670.0,879.0 1673.2,879.1 1676.5,879.1 1679.7,879.1 1682.9,879.2 1686.2,879.2 1689.4,879.2 1692.7,879.3 1695.9,879.3 1699.2,879.3 1702.4,879.3 1705.6,879.3 1708.9,879.3 1712.1,879.4 1715.4,879.4 1718.6,879.4 1721.9,879.4 1725.1,879.4 1728.4,879.4 1731.6,879.4 1734.8,879.4 1738.1,879.4 1741.3,879.4 1744.6,879.4 1747.8,879.4 1751.1,879.4 1754.3,879.4 1757.5,879.4 1760.8,879.4 1764.0,879.4 1767.3,879.4 1770.5,879.4 1773.8,879.4 1777.0,879.4 1780.2,879.4 1783.5,879.4 1786.7,879.4 1790.0,879.4 1793.2,879.4 1796.5,879.4 1799.7,879.4 1802.9,879.4 1806.2,879.4 1809.4,879.4 1812.7,879.4 1815.9,879.4 1819.2,879.4 1822.4,879.4 1825.7,879.4 1828.9,879.4 1832.1,879.4 1835.4,879.4 1838.6,879.4 1841.9,879.4 1845.1,879.4 1848.4,879.4 1851.6,879.4 1854.8,879.4 1858.1,879.4 1861.3,879.4 1864.6,879.4 1867.8,879.4 1871.1,879.4 1874.3,879.4 1877.5,879.4 1880.8,879.4 1884.0,879.4 1887.3,879.4 1890.5,879.4 1893.8,879.4 1897.0,879.4 1900.2,879.4 1903.5,879.4 1906.7,879.4 1910.0,879.4 1913.2,879.4 1916.5,879.4 1919.7,879.4 1923.0,879.4 1926.2,879.4 1929.4,879.4 1932.7,879.4 1935.9,879.4 1939.2,879.4 1942.4,879.4 1945.7,879.4 1948.9,879.4 1952.1,879.4 1955.4,879.4 1958.6,879.4 1961.9,879.4 1965.1,879.4 1968.4,879.4 1971.6,879.4 1974.8,879.4 1978.1,879.4 1981.3,879.4 1984.6,879.4 1987.8,879.4 1991.1,879.4 1994.3,879.4" fill="none" stroke="#000" stroke-width="4.5" stroke-linejoin="round" stroke-linecap="round"/>
<polygon points="337.0,1184.9 340.2,1184.8 343.5,1184.7 346.7,1184.7 349.9,1184.6 353.2,1184.4 356.4,1184.3 359.7,1184.1 362.9,1184.0 366.2,1183.8 369.4,1183.5 372.6,1183.3 375.9,1183.0 379.1,1182.7 382.4,1182.3 385.6,1181.9 388.9,1181.5 392.1,1181.0 395.3,1180.4 398.6,1179.8 401.8,1179.1 405.1,1178.3 408.3,1177.5 411.6,1176.6 414.8,1175.6 418.0,1174.5 421.3,1173.3 424.5,1172.0 427.8,1170.6 431.0,1169.1 434.3,1167.5 437.5,1165.8 440.8,1163.9 444.0,1161.9 447.2,1159.8 450.5,1157.5 453.7,1155.1 457.0,1152.5 460.2,1149.8 463.5,1147.0 466.7,1144.0 469.9,1140.9 473.2,1137.6 476.4,1134.1 479.7,1130.6 482.9,1126.9 486.2,1123.0 489.4,1119.0 492.6,1114.9 495.9,1110.7 499.1,1106.3 502.4,1101.8 505.6,1097.3 508.9,1092.6 512.1,1087.9 515.3,1083.0 518.6,1078.1 521.8,1073.1 525.1,1068.1 528.3,1063.0 531.6,1057.8 534.8,1052.6 538.1,1047.4 541.3,1042.2 544.5,1036.9 547.8,1031.7 551.0,1026.4 554.3,1021.1 557.5,1015.9 560.8,1010.6 564.0,1005.4 567.2,1000.1 570.5,994.9 573.7,989.7 577.0,984.4 580.2,979.2 583.5,974.0 586.7,968.8 589.9,963.6 593.2,958.5 596.4,953.3 599.7,948.0 602.9,942.8 606.2,937.6 609.4,932.3 612.6,927.0 615.9,921.6 619.1,916.2 622.4,910.8 625.6,905.3 628.9,899.7 632.1,894.1 635.4,888.4 638.6,882.6 641.8,876.7 645.1,870.7 648.3,864.7 651.6,858.5 654.8,852.3 658.1,845.9 661.3,839.4 664.5,832.8 667.8,826.2 671.0,819.4 674.3,812.5 677.5,805.5 680.8,798.5 684.0,791.4 687.2,784.2 690.5,776.9 693.7,769.6 697.0,762.3 700.2,755.0 703.5,747.6 706.7,740.3 709.9,733.1 713.2,725.8 716.4,718.7 719.7,711.7 722.9,704.8 726.2,698.1 729.4,691.6 732.7,685.3 735.9,679.2 739.1,673.4 742.4,667.9 745.6,662.8 748.9,658.0 752.1,653.6 755.4,649.6 758.6,646.0 761.8,642.9 765.1,640.2 768.3,638.1 771.6,636.4 774.8,635.3 778.1,634.7 781.3,634.7 784.5,635.2 787.8,636.3 791.0,637.8 794.3,640.0 797.5,642.7 800.8,645.8 804.0,649.5 807.2,653.7 810.5,658.4 813.7,663.5 817.0,669.0 820.2,674.9 823.5,681.2 826.7,687.8 830.0,694.7 833.2,701.8 836.4,709.2 839.7,716.8 842.9,724.6 846.2,732.5 849.4,740.5 852.7,748.6 855.9,756.8 859.1,764.9 862.4,773.1 865.6,781.3 868.9,789.3 872.1,797.4 875.4,805.3 878.6,813.2 881.8,820.9 885.1,828.6 888.3,836.1 891.6,843.5 894.8,850.7 898.1,857.9 901.3,864.9 904.5,871.7 907.8,878.5 911.0,885.1 914.3,891.6 917.5,898.0 920.8,904.3 924.0,910.5 927.3,916.6 930.5,922.6 933.7,928.5 937.0,934.3 940.2,940.0 943.5,945.7 946.7,951.3 950.0,956.8 953.2,962.2 956.4,967.6 959.7,972.9 962.9,978.1 966.2,983.3 969.4,988.3 972.7,993.3 975.9,998.3 979.1,1003.1 982.4,1007.9 985.6,1012.6 988.9,1017.3 992.1,1021.8 995.4,1026.3 998.6,1030.7 1001.8,1035.0 1005.1,1039.3 1008.3,1043.5 1011.6,1047.6 1014.8,1051.6 1018.1,1055.6 1021.3,1059.5 1024.6,1063.3 1027.8,1067.1 1031.0,1070.8 1034.3,1074.5 1037.5,1078.1 1040.8,1081.7 1044.0,1085.2 1047.3,1088.7 1050.5,1092.1 1053.7,1095.5 1057.0,1098.9 1060.2,1102.2 1063.5,1105.4 1066.7,1108.7 1070.0,1111.9 1073.2,1115.0 1076.4,1118.1 1079.7,1121.1 1082.9,1124.1 1086.2,1127.0 1089.4,1129.9 1092.7,1132.7 1095.9,1135.5 1099.1,1138.2 1102.4,1140.8 1105.6,1143.3 1108.9,1145.8 1112.1,1148.2 1115.4,1150.5 1118.6,1152.7 1121.9,1154.9 1125.1,1156.9 1128.3,1158.9 1131.6,1160.8 1134.8,1162.6 1138.1,1164.3 1141.3,1165.9 1144.6,1167.4 1147.8,1168.9 1151.0,1170.2 1154.3,1171.5 1157.5,1172.7 1160.8,1173.8 1164.0,1174.9 1167.3,1175.8 1170.5,1176.7 1173.7,1177.6 1177.0,1178.3 1180.2,1179.0 1183.5,1179.7 1186.7,1180.3 1190.0,1180.8 1193.2,1181.3 1196.4,1181.7 1199.7,1182.1 1202.9,1182.5 1206.2,1182.8 1209.4,1183.1 1212.7,1183.4 1215.9,1183.6 1219.1,1183.8 1222.4,1184.0 1225.6,1184.2 1228.9,1184.3 1232.1,1184.4 1235.4,1184.6 1238.6,1184.7 1241.9,1184.7 1245.1,1184.8 1248.3,1184.9 1251.6,1184.9 1254.8,1185.0 1258.1,1185.0 1261.3,1185.1 1264.6,1185.1 1267.8,1185.1 1271.0,1185.2 1274.3,1185.2 1277.5,1185.2 1280.8,1185.2 1284.0,1185.2 1287.3,1185.2 1290.5,1185.2 1293.7,1185.2 1297.0,1185.2 1300.2,1185.2 1303.5,1185.3 1306.7,1185.3 1310.0,1185.3 1313.2,1185.3 1316.4,1185.3 1319.7,1185.3 1322.9,1185.3 1326.2,1185.3 1329.4,1185.3 1332.7,1185.3 1335.9,1185.3 1339.2,1185.3 1342.4,1185.3 1345.6,1185.3 1348.9,1185.3 1352.1,1185.3 1355.4,1185.3 1358.6,1185.3 1361.9,1185.3 1365.1,1185.3 1368.3,1185.3 1371.6,1185.3 1374.8,1185.3 1378.1,1185.3 1381.3,1185.3 1384.6,1185.3 1387.8,1185.3 1391.0,1185.3 1394.3,1185.3 1397.5,1185.3 1400.8,1185.3 1404.0,1185.3 1407.3,1185.3 1410.5,1185.3 1413.7,1185.3 1417.0,1185.3 1420.2,1185.3 1423.5,1185.3 1426.7,1185.3 1430.0,1185.3 1433.2,1185.3 1436.5,1185.3 1439.7,1185.3 1442.9,1185.3 1446.2,1185.3 1449.4,1185.3 1452.7,1185.3 1455.9,1185.3 1459.2,1185.3 1462.4,1185.3 1465.6,1185.3 1468.9,1185.3 1472.1,1185.3 1475.4,1185.3 1478.6,1185.3 1481.9,1185.3 1485.1,1185.3 1488.3,1185.3 1491.6,1185.3 1494.8,1185.3 1498.1,1185.3 1501.3,1185.3 1504.6,1185.3 1507.8,1185.3 1511.0,1185.3 1514.3,1185.3 1517.5,1185.3 1520.8,1185.3 1524.0,1185.3 1527.3,1185.3 1530.5,1185.3 1533.8,1185.3 1537.0,1185.3 1540.2,1185.3 1543.5,1185.3 1546.7,1185.3 1550.0,1185.3 1553.2,1185.3 1556.5,1185.3 1559.7,1185.3 1562.9,1185.3 1566.2,1185.3 1569.4,1185.3 1572.7,1185.3 1575.9,1185.3 1579.2,1185.3 1582.4,1185.3 1585.6,1185.3 1588.9,1185.3 1592.1,1185.3 1595.4,1185.3 1598.6,1185.3 1601.9,1185.3 1605.1,1185.3 1608.3,1185.3 1611.6,1185.3 1614.8,1185.3 1618.1,1185.3 1621.3,1185.3 1624.6,1185.3 1627.8,1185.3 1631.1,1185.3 1634.3,1185.3 1637.5,1185.3 1640.8,1185.3 1644.0,1185.3 1647.3,1185.3 1650.5,1185.3 1653.8,1185.3 1657.0,1185.3 1660.2,1185.3 1663.5,1185.3 1666.7,1185.3 1670.0,1185.3 1673.2,1185.3 1676.5,1185.3 1679.7,1185.3 1682.9,1185.3 1686.2,1185.3 1689.4,1185.3 1692.7,1185.3 1695.9,1185.3 1699.2,1185.3 1702.4,1185.3 1705.6,1185.3 1708.9,1185.3 1712.1,1185.3 1715.4,1185.3 1718.6,1185.3 1721.9,1185.3 1725.1,1185.3 1728.4,1185.3 1731.6,1185.3 1734.8,1185.3 1738.1,1185.3 1741.3,1185.3 1744.6,1185.3 1747.8,1185.3 1751.1,1185.3 1754.3,1185.3 1757.5,1185.3 1760.8,1185.3 1764.0,1185.3 1767.3,1185.3 1770.5,1185.3 1773.8,1185.3 1777.0,1185.3 1780.2,1185.3 1783.5,1185.3 1786.7,1185.3 1790.0,1185.3 1793.2,1185.3 1796.5,1185.3 1799.7,1185.3 1802.9,1185.3 1806.2,1185.3 1809.4,1185.3 1812.7,1185.3 1815.9,1185.3 1819.2,1185.3 1822.4,1185.3 1825.7,1185.3 1828.9,1185.3 1832.1,1185.3 1835.4,1185.3 1838.6,1185.3 1841.9,1185.3 1845.1,1185.3 1848.4,1185.3 1851.6,1185.3 1854.8,1185.3 1858.1,1185.3 1861.3,1185.3 1864.6,1185.3 1867.8,1185.3 1871.1,1185.3 1874.3,1185.3 1877.5,1185.3 1880.8,1185.3 1884.0,1185.3 1887.3,1185.3 1890.5,1185.3 1893.8,1185.3 1897.0,1185.3 1900.2,1185.3 1903.5,1185.3 1906.7,1185.3 1910.0,1185.3 1913.2,1185.3 1916.5,1185.3 1919.7,1185.3 1923.0,1185.3 1926.2,1185.3 1929.4,1185.3 1932.7,1185.3 1935.9,1185.3 1939.2,1185.3 1942.4,1185.3 1945.7,1185.3 1948.9,1185.3 1952.1,1185.3 1955.4,1185.3 1958.6,1185.3 1961.9,1185.3 1965.1,1185.3 1968.4,1185.3 1971.6,1185.3 1974.8,1185.3 1978.1,1185.3 1981.3,1185.3 1984.6,1185.3 1987.8,1185.3 1991.1,1185.3 1994.3,1185.3 1994.3,1185.3 337.0,1185.3" fill="#A5A5A5"/>
<polyline points="337.0,1184.9 340.2,1184.8 343.5,1184.7 346.7,1184.7 349.9,1184.6 353.2,1184.4 356.4,1184.3 359.7,1184.1 362.9,1184.0 366.2,1183.8 369.4,1183.5 372.6,1183.3 375.9,1183.0 379.1,1182.7 382.4,1182.3 385.6,1181.9 388.9,1181.5 392.1,1181.0 395.3,1180.4 398.6,1179.8 401.8,1179.1 405.1,1178.3 408.3,1177.5 411.6,1176.6 414.8,1175.6 418.0,1174.5 421.3,1173.3 424.5,1172.0 427.8,1170.6 431.0,1169.1 434.3,1167.5 437.5,1165.8 440.8,1163.9 444.0,1161.9 447.2,1159.8 450.5,1157.5 453.7,1155.1 457.0,1152.5 460.2,1149.8 463.5,1147.0 466.7,1144.0 469.9,1140.9 473.2,1137.6 476.4,1134.1 479.7,1130.6 482.9,1126.9 486.2,1123.0 489.4,1119.0 492.6,1114.9 495.9,1110.7 499.1,1106.3 502.4,1101.8 505.6,1097.3 508.9,1092.6 512.1,1087.9 515.3,1083.0 518.6,1078.1 521.8,1073.1 525.1,1068.1 528.3,1063.0 531.6,1057.8 534.8,1052.6 538.1,1047.4 541.3,1042.2 544.5,1036.9 547.8,1031.7 551.0,1026.4 554.3,1021.1 557.5,1015.9 560.8,1010.6 564.0,1005.4 567.2,1000.1 570.5,994.9 573.7,989.7 577.0,984.4 580.2,979.2 583.5,974.0 586.7,968.8 589.9,963.6 593.2,958.5 596.4,953.3 599.7,948.0 602.9,942.8 606.2,937.6 609.4,932.3 612.6,927.0 615.9,921.6 619.1,916.2 622.4,910.8 625.6,905.3 628.9,899.7 632.1,894.1 635.4,888.4 638.6,882.6 641.8,876.7 645.1,870.7 648.3,864.7 651.6,858.5 654.8,852.3 658.1,845.9 661.3,839.4 664.5,832.8 667.8,826.2 671.0,819.4 674.3,812.5 677.5,805.5 680.8,798.5 684.0,791.4 687.2,784.2 690.5,776.9 693.7,769.6 697.0,762.3 700.2,755.0 703.5,747.6 706.7,740.3 709.9,733.1 713.2,725.8 716.4,718.7 719.7,711.7 722.9,704.8 726.2,698.1 729.4,691.6 732.7,685.3 735.9,679.2 739.1,673.4 742.4,667.9 745.6,662.8 748.9,658.0 752.1,653.6 755.4,649.6 758.6,646.0 761.8,642.9 765.1,640.2 768.3,638.1 771.6,636.4 774.8,635.3 778.1,634.7 781.3,634.7 784.5,635.2 787.8,636.3 791.0,637.8 794.3,640.0 797.5,642.7 800.8,645.8 804.0,649.5 807.2,653.7 810.5,658.4 813.7,663.5 817.0,669.0 820.2,674.9 823.5,681.2 826.7,687.8 830.0,694.7 833.2,701.8 836.4,709.2 839.7,716.8 842.9,724.6 846.2,732.5 849.4,740.5 852.7,748.6 855.9,756.8 859.1,764.9 862.4,773.1 865.6,781.3 868.9,789.3 872.1,797.4 875.4,805.3 878.6,813.2 881.8,820.9 885.1,828.6 888.3,836.1 891.6,843.5 894.8,850.7 898.1,857.9 901.3,864.9 904.5,871.7 907.8,878.5 911.0,885.1 914.3,891.6 917.5,898.0 920.8,904.3 924.0,910.5 927.3,916.6 930.5,922.6 933.7,928.5 937.0,934.3 940.2,940.0 943.5,945.7 946.7,951.3 950.0,956.8 953.2,962.2 956.4,967.6 959.7,972.9 962.9,978.1 966.2,983.3 969.4,988.3 972.7,993.3 975.9,998.3 979.1,1003.1 982.4,1007.9 985.6,1012.6 988.9,1017.3 992.1,1021.8 995.4,1026.3 998.6,1030.7 1001.8,1035.0 1005.1,1039.3 1008.3,1043.5 1011.6,1047.6 1014.8,1051.6 1018.1,1055.6 1021.3,1059.5 1024.6,1063.3 1027.8,1067.1 1031.0,1070.8 1034.3,1074.5 1037.5,1078.1 1040.8,1081.7 1044.0,1085.2 1047.3,1088.7 1050.5,1092.1 1053.7,1095.5 1057.0,1098.9 1060.2,1102.2 1063.5,1105.4 1066.7,1108.7 1070.0,1111.9 1073.2,1115.0 1076.4,1118.1 1079.7,1121.1 1082.9,1124.1 1086.2,1127.0 1089.4,1129.9 1092.7,1132.7 1095.9,1135.5 1099.1,1138.2 1102.4,1140.8 1105.6,1143.3 1108.9,1145.8 1112.1,1148.2 1115.4,1150.5 1118.6,1152.7 1121.9,1154.9 1125.1,1156.9 1128.3,1158.9 1131.6,1160.8 1134.8,1162.6 1138.1,1164.3 1141.3,1165.9 1144.6,1167.4 1147.8,1168.9 1151.0,1170.2 1154.3,1171.5 1157.5,1172.7 1160.8,1173.8 1164.0,1174.9 1167.3,1175.8 1170.5,1176.7 1173.7,1177.6 1177.0,1178.3 1180.2,1179.0 1183.5,1179.7 1186.7,1180.3 1190.0,1180.8 1193.2,1181.3 1196.4,1181.7 1199.7,1182.1 1202.9,1182.5 1206.2,1182.8 1209.4,1183.1 1212.7,1183.4 1215.9,1183.6 1219.1,1183.8 1222.4,1184.0 1225.6,1184.2 1228.9,1184.3 1232.1,1184.4 1235.4,1184.6 1238.6,1184.7 1241.9,1184.7 1245.1,1184.8 1248.3,1184.9 1251.6,1184.9 1254.8,1185.0 1258.1,1185.0 1261.3,1185.1 1264.6,1185.1 1267.8,1185.1 1271.0,1185.2 1274.3,1185.2 1277.5,1185.2 1280.8,1185.2 1284.0,1185.2 1287.3,1185.2 1290.5,1185.2 1293.7,1185.2 1297.0,1185.2 1300.2,1185.2 1303.5,1185.3 1306.7,1185.3 1310.0,1185.3 1313.2,1185.3 1316.4,1185.3 1319.7,1185.3 1322.9,1185.3 1326.2,1185.3 1329.4,1185.3 1332.7,1185.3 1335.9,1185.3 1339.2,1185.3 1342.4,1185.3 1345.6,1185.3 1348.9,1185.3 1352.1,1185.3 1355.4,1185.3 1358.6,1185.3 1361.9,1185.3 1365.1,1185.3 1368.3,1185.3 1371.6,1185.3 1374.8,1185.3 1378.1,1185.3 1381.3,1185.3 1384.6,1185.3 1387.8,1185.3 1391.0,1185.3 1394.3,1185.3 1397.5,1185.3 1400.8,1185.3 1404.0,1185.3 1407.3,1185.3 1410.5,1185.3 1413.7,1185.3 1417.0,1185.3 1420.2,1185.3 1423.5,1185.3 1426.7,1185.3 1430.0,1185.3 1433.2,1185.3 1436.5,1185.3 1439.7,1185.3 1442.9,1185.3 1446.2,1185.3 1449.4,1185.3 1452.7,1185.3 1455.9,1185.3 1459.2,1185.3 1462.4,1185.3 1465.6,1185.3 1468.9,1185.3 1472.1,1185.3 1475.4,1185.3 1478.6,1185.3 1481.9,1185.3 1485.1,1185.3 1488.3,1185.3 1491.6,1185.3 1494.8,1185.3 1498.1,1185.3 1501.3,1185.3 1504.6,1185.3 1507.8,1185.3 1511.0,1185.3 1514.3,1185.3 1517.5,1185.3 1520.8,1185.3 1524.0,1185.3 1527.3,1185.3 1530.5,1185.3 1533.8,1185.3 1537.0,1185.3 1540.2,1185.3 1543.5,1185.3 1546.7,1185.3 1550.0,1185.3 1553.2,1185.3 1556.5,1185.3 1559.7,1185.3 1562.9,1185.3 1566.2,1185.3 1569.4,1185.3 1572.7,1185.3 1575.9,1185.3 1579.2,1185.3 1582.4,1185.3 1585.6,1185.3 1588.9,1185.3 1592.1,1185.3 1595.4,1185.3 1598.6,1185.3 1601.9,1185.3 1605.1,1185.3 1608.3,1185.3 1611.6,1185.3 1614.8,1185.3 1618.1,1185.3 1621.3,1185.3 1624.6,1185.3 1627.8,1185.3 1631.1,1185.3 1634.3,1185.3 1637.5,1185.3 1640.8,1185.3 1644.0,1185.3 1647.3,1185.3 1650.5,1185.3 1653.8,1185.3 1657.0,1185.3 1660.2,1185.3 1663.5,1185.3 1666.7,1185.3 1670.0,1185.3 1673.2,1185.3 1676.5,1185.3 1679.7,1185.3 1682.9,1185.3 1686.2,1185.3 1689.4,1185.3 1692.7,1185.3 1695.9,1185.3 1699.2,1185.3 1702.4,1185.3 1705.6,1185.3 1708.9,1185.3 1712.1,1185.3 1715.4,1185.3 1718.6,1185.3 1721.9,1185.3 1725.1,1185.3 1728.4,1185.3 1731.6,1185.3 1734.8,1185.3 1738.1,1185.3 1741.3,1185.3 1744.6,1185.3 1747.8,1185.3 1751.1,1185.3 1754.3,1185.3 1757.5,1185.3 1760.8,1185.3 1764.0,1185.3 1767.3,1185.3 1770.5,1185.3 1773.8,1185.3 1777.0,1185.3 1780.2,1185.3 1783.5,1185.3 1786.7,1185.3 1790.0,1185.3 1793.2,1185.3 1796.5,1185.3 1799.7,1185.3 1802.9,1185.3 1806.2,1185.3 1809.4,1185.3 1812.7,1185.3 1815.9,1185.3 1819.2,1185.3 1822.4,1185.3 1825.7,1185.3 1828.9,1185.3 1832.1,1185.3 1835.4,1185.3 1838.6,1185.3 1841.9,1185.3 1845.1,1185.3 1848.4,1185.3 1851.6,1185.3 1854.8,1185.3 1858.1,1185.3 1861.3,1185.3 1864.6,1185.3 1867.8,1185.3 1871.1,1185.3 1874.3,1185.3 1877.5,1185.3 1880.8,1185.3 1884.0,1185.3 1887.3,1185.3 1890.5,1185.3 1893.8,1185.3 1897.0,1185.3 1900.2,1185.3 1903.5,1185.3 1906.7,1185.3 1910.0,1185.3 1913.2,1185.3 1916.5,1185.3 1919.7,1185.3 1923.0,1185.3 1926.2,1185.3 1929.4,1185.3 1932.7,1185.3 1935.9,1185.3 1939.2,1185.3 1942.4,1185.3 1945.7,1185.3 1948.9,1185.3 1952.1,1185.3 1955.4,1185.3 1958.6,1185.3 1961.9,1185.3 1965.1,1185.3 1968.4,1185.3 1971.6,1185.3 1974.8,1185.3 1978.1,1185.3 1981.3,1185.3 1984.6,1185.3 1987.8,1185.3 1991.1,1185.3 1994.3,1185.3" fill="none" stroke="#000" stroke-width="4.5" stroke-linejoin="round" stroke-linecap="round"/>
</g>
<line x1="422.79" x2="422.79" y1="1368.80" y2="1380.20" stroke="#262626" stroke-width="4.45"/>
<text x="422.79" y="1416.3" text-anchor="middle" font-size="36.67" fill="#3a3a3a">4</text>
<line x1="776.53" x2="776.53" y1="1368.80" y2="1380.20" stroke="#262626" stroke-width="4.45"/>
<text x="776.53" y="1416.3" text-anchor="middle" font-size="36.67" fill="#3a3a3a">5</text>
<line x1="1130.26" x2="1130.26" y1="1368.80" y2="1380.20" stroke="#262626" stroke-width="4.45"/>
<text x="1130.26" y="1416.3" text-anchor="middle" font-size="36.67" fill="#3a3a3a">6</text>
<line x1="1484.00" x2="1484.00" y1="1368.80" y2="1380.20" stroke="#262626" stroke-width="4.45"/>
<text x="1484.00" y="1416.3" text-anchor="middle" font-size="36.67" fill="#3a3a3a">7</text>
<line x1="1837.73" x2="1837.73" y1="1368.80" y2="1380.20" stroke="#262626" stroke-width="4.45"/>
<text x="1837.73" y="1416.3" text-anchor="middle" font-size="36.67" fill="#3a3a3a">8</text>
<line x1="242.70" x2="254.10" y1="1185.27" y2="1185.27" stroke="#262626" stroke-width="4.45"/>
<text x="232.2" y="1198.57" text-anchor="end" font-size="36.67" fill="#3a3a3a">setosa</text>
<line x1="242.70" x2="254.10" y1="879.39" y2="879.39" stroke="#262626" stroke-width="4.45"/>
<text x="233.6" y="892.69" text-anchor="end" font-size="36.67" fill="#3a3a3a">versicolor</text>
<line x1="242.70" x2="254.10" y1="573.52" y2="573.52" stroke="#262626" stroke-width="4.45"/>
<text x="232.2" y="586.82" text-anchor="end" font-size="36.67" fill="#3a3a3a">virginica</text>
<text x="1165.6" y="1467.5" text-anchor="middle" font-size="45.83" fill="#000">Sepal.Length</text>
<text transform="translate(54.9,779) rotate(-90)" text-anchor="middle" font-size="45.83" fill="#000">Species</text>
<text x="254.1" y="63.3" font-size="55" fill="#000">A heteroscedastic one-way ANOVA for trimmed means</text>
<text x="254.7" y="146.0" font-size="45.83" font-style="italic">F</text>
<text x="286.7" y="153.7" font-size="32.08">trimmed-means</text>
<text transform="translate(509.3,144.5) scale(0.92,1)" font-size="57.6" font-family="Liberation Serif, serif">(</text>
<text x="527.0" y="146.0" font-size="45.83">2<tspan font-family="Liberation Serif, serif">,</tspan> 53.84</text>
<text transform="translate(693.2,144.5) scale(0.92,1)" font-size="57.6" font-family="Liberation Serif, serif">)</text>
<text x="719.8" y="145.2" font-size="32.5" font-family="DejaVu Sans, sans-serif" stroke="#000" stroke-width="0.7">=</text>
<text x="757.5" y="146.0" font-size="45.83">111.95<tspan font-family="Liberation Serif, serif">,</tspan></text>
<text x="921.0" y="146.0" font-size="45.83" font-style="italic">p</text>
<text x="959.0" y="145.2" font-size="32.5" font-family="DejaVu Sans, sans-serif" stroke="#000" stroke-width="0.7">=</text>
<text x="995.6" y="146.0" font-size="45.83">2.23e-308<tspan font-family="Liberation Serif, serif">,</tspan></text>
<text transform="translate(1223.3,146.0) scale(1.14,1)" font-size="47.3" font-family="Liberation Serif, serif">ξ</text>
<text x="1257.0" y="145.2" font-size="32.5" font-family="DejaVu Sans, sans-serif" stroke="#000" stroke-width="0.7">=</text>
<text x="1294.0" y="146.0" font-size="45.83">0.85<tspan font-family="Liberation Serif, serif">,</tspan></text>
<text x="1406.3" y="146.0" font-size="45.83">CI</text>
<text x="1451.8" y="153.7" font-size="32.08">95%</text>
<text x="1528.0" y="146.0" font-size="45.83">[0.76<tspan font-family="Liberation Serif, serif">,</tspan></text>
<text x="1652.0" y="146.0" font-size="45.83">0.93]<tspan font-family="Liberation Serif, serif">,</tspan></text>
<text x="1778.2" y="146.0" font-size="45.83" font-style="italic">n</text>
<text x="1805.8" y="153.7" font-size="32.08">obs</text>
<text x="1867.4" y="145.2" font-size="32.5" font-family="DejaVu Sans, sans-serif" stroke="#000" stroke-width="0.7">=</text>
<text x="1907.2" y="146.0" font-size="45.83">150</text>
<polyline points="1225.1,106.6 1236.8,96.6 1248.4,106.6" fill="none" stroke="#000" stroke-width="2.4" stroke-linejoin="round" stroke-linecap="round"/>
</svg>
</body></html>
